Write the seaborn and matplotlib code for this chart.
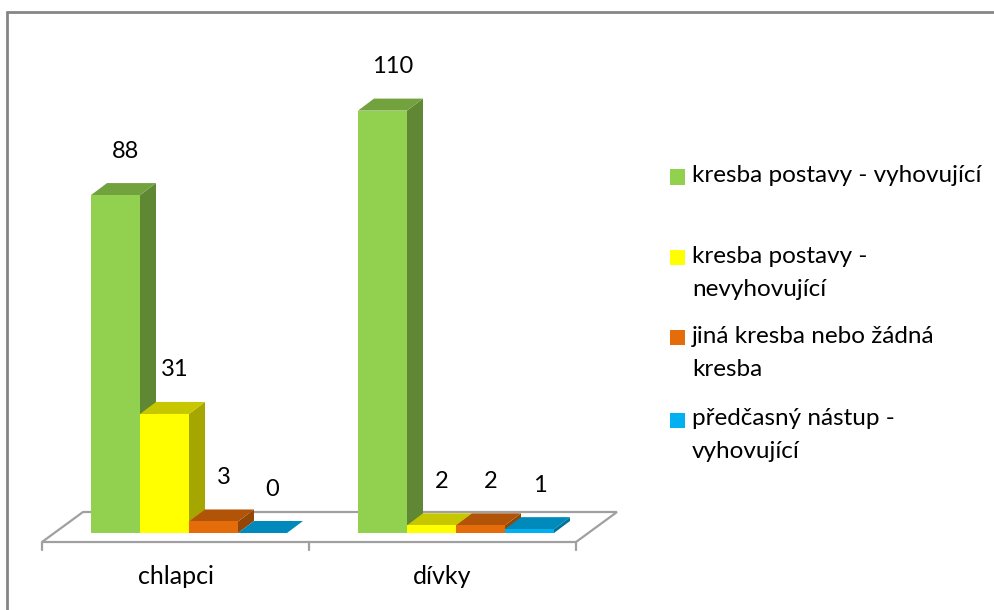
import numpy as np
import pandas as pd
import matplotlib
matplotlib.use("Agg")
import matplotlib.pyplot as plt
import matplotlib.colors as mcolors
from matplotlib.patches import Polygon, Rectangle
from matplotlib.lines import Line2D
import seaborn as sns

# --- data ---
skupiny = ['chlapci', 'dívky']
kategorie = ['kresba postavy - vyhovující',
             'kresba postavy - nevyhovující',
             'jiná kresba nebo žádná kresba',
             'předčasný nástup - vyhovující']
legenda = ['kresba postavy - vyhovující',
           'kresba postavy -\nnevyhovující',
           'jiná kresba nebo žádná\nkresba',
           'předčasný nástup -\nvyhovující']
chlapci = [88, 31, 3, 0]
divky = [110, 2, 2, 1]
barvy = ['#92D050', '#FFFF00', '#E46C0A', '#00B0F0']

df = pd.DataFrame({
    'skupina': np.repeat(skupiny, len(kategorie)),
    'kategorie': kategorie * len(skupiny),
    'pocet': chlapci + divky,
})


def ztmavit(c, f):
    r, g, b = mcolors.to_rgb(c)
    return (r * f, g * f, b * f)


if __name__ == "__main__":
    sns.set_theme(style="white")
    plt.rcParams['font.family'] = ['Lato', 'DejaVu Sans']

    W, H = 995, 610
    fig = plt.figure(figsize=(W / 100, H / 100), dpi=100)
    ax = fig.add_axes([0, 0, 1, 1])

    sns.barplot(data=df, x='skupina', y='pocet', hue='kategorie',
                hue_order=kategorie, palette=barvy, width=0.734,
                saturation=1, legend=False, ax=ax, linewidth=0)
    bary = sorted(list(ax.patches), key=lambda p: p.get_x())

    # pixel -> data mapping (group 0 centre at px 189, 267 px per group, 3.84 px per unit)
    px_x, x0_px = 267.0, 189.0
    px_y, y0_px = 3.84, 533.0
    ax.set_xlim(-x0_px / px_x, (W - x0_px) / px_x)
    ax.set_ylim((y0_px - H) / px_y, y0_px / px_y)
    ax.axis('off')

    # 3D depth of bars
    dx, dy = 16 / px_x, 12 / px_y

    # floor
    posun = 13.5 / px_x
    fx0 = -0.5 - posun
    fx1 = len(skupiny) - 0.5 - posun
    fy = -9 / px_y
    fdx, fdy = 41 / px_x, 30 / px_y
    podlaha = Polygon([(fx0, fy), (fx1, fy), (fx1 + fdx, fy + fdy), (fx0 + fdx, fy + fdy)],
                      closed=True, facecolor='white', edgecolor='#A0A0A0', lw=1.6, zorder=1)
    ax.add_patch(podlaha)
    for i in range(len(skupiny) + 1):
        tx = fx0 + i
        ax.plot([tx, tx], [fy, fy - 8 / px_y], color='#A0A0A0', lw=1.6, zorder=1)

    # 3D faces + value labels
    hodnoty = chlapci + divky
    for k, (p, v) in enumerate(zip(bary, hodnoty)):
        x, w, h = p.get_x(), p.get_width(), p.get_height()
        c = p.get_facecolor()
        z = 2 + k
        bok = Polygon([(x + w, 0), (x + w + dx, dy), (x + w + dx, h + dy), (x + w, h)],
                      closed=True, facecolor=ztmavit(c, 0.65), lw=0, zorder=z)
        vrch = Polygon([(x, h), (x + w, h), (x + w + dx, h + dy), (x + dx, h + dy)],
                       closed=True, facecolor=ztmavit(c, 0.78), lw=0, zorder=z)
        ax.add_patch(bok)
        ax.add_patch(vrch)
        p.set_zorder(z + 0.5)
        ax.text(x + w / 2 + 10 / px_x, h + 44 / px_y, f'{v}', ha='center', va='center',
                fontsize=17, color='black', zorder=50)

    for i, s in enumerate(skupiny):
        ax.text(i - posun, (y0_px - 577) / px_y, s, ha='center', va='center',
                fontsize=18, color='black')

    # legend
    leg_y = [177, 258, 338, 420]
    for lab, col, yy in zip(legenda, barvy, leg_y):
        fig.add_artist(Rectangle((670 / W, 1 - (yy + 7.5) / H), 15 / W, 15 / H,
                                 transform=fig.transFigure, facecolor=col, lw=0))
        fig.text(692 / W, 1 - (yy - 12) / H, lab, ha='left', va='top',
                 fontsize=17.5, color='black', linespacing=1.7)

    # chart border (top and left visible)
    fig.add_artist(Line2D([7 / W, 1], [1 - 12 / H, 1 - 12 / H], transform=fig.transFigure,
                          color='#868686', lw=2))
    fig.add_artist(Line2D([7 / W, 7 / W], [0, 1 - 12 / H], transform=fig.transFigure,
                          color='#868686', lw=2))

    fig.savefig('out.png', dpi=100)
